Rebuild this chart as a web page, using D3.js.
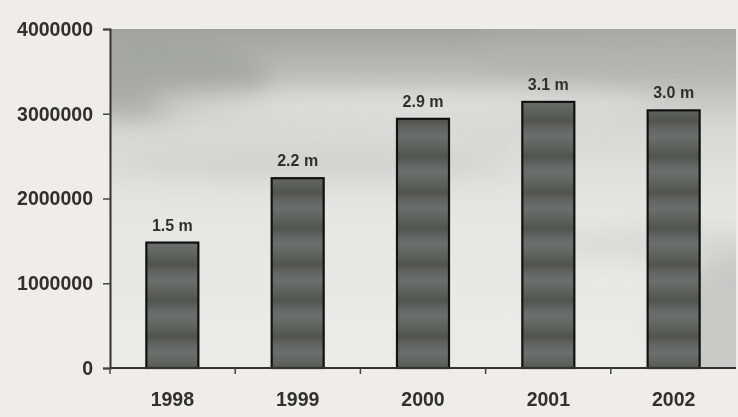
<!DOCTYPE html>
<html>
<head>
<meta charset="utf-8">
<script src="https://cdn.jsdelivr.net/npm/d3@7"></script>
<style>
  html, body { margin: 0; padding: 0; background: #eeedeb; }
  svg { display: block; }
  text { font-family: "Liberation Sans", Arial, sans-serif; font-weight: bold; fill: #303030; }
</style>
</head>
<body>
<svg id="chart" width="738" height="417"></svg>
<script>
// Annual totals, 1998–2002
const years = ["1998", "1999", "2000", "2001", "2002"];
const totals = [1480000, 2240000, 2940000, 3140000, 3040000];
const yTicks = [0, 1000000, 2000000, 3000000, 4000000];

const W = 738, H = 417;
const margin = { top: 29, right: 2, bottom: 49, left: 110 };
const innerW = W - margin.left - margin.right;
const innerH = H - margin.top - margin.bottom;

const svg = d3.select("#chart");
const defs = svg.append("defs");

// plot-area wash: grey at the top, fading to pale grey
const bg = defs.append("linearGradient").attr("id", "bgGrad")
  .attr("x1", 0).attr("y1", 0).attr("x2", 0).attr("y2", 1);
[[0, "#a2a3a1"], [0.1, "#b6b7b5"], [0.3, "#d8d8d6"], [0.55, "#e6e6e4"], [1, "#ebebe9"]]
  .forEach(([o, c]) => bg.append("stop").attr("offset", o).attr("stop-color", c));

const soft = defs.append("filter").attr("id", "soft")
  .attr("x", "-30%").attr("y", "-30%").attr("width", "160%").attr("height", "160%");
soft.append("feGaussianBlur").attr("stdDeviation", 12);

// banded bar fill
const barGrad = defs.append("linearGradient").attr("id", "barGrad")
  .attr("gradientUnits", "userSpaceOnUse")
  .attr("x1", 0).attr("y1", 0).attr("x2", 0).attr("y2", 36)
  .attr("spreadMethod", "repeat");
[[0, "#6a6f6d"], [0.35, "#5b5e5b"], [0.55, "#525350"], [0.8, "#636866"], [1, "#6a6f6d"]]
  .forEach(([o, c]) => barGrad.append("stop").attr("offset", o).attr("stop-color", c));

const g = svg.append("g").attr("transform", `translate(${margin.left},${margin.top})`);

const x = d3.scaleBand().domain(years).range([0, innerW]).paddingInner(0.585).paddingOuter(0.29);
const y = d3.scaleLinear().domain([0, 4000000]).range([innerH, 0]);

// background
const bgG = g.append("g");
bgG.append("rect").attr("width", innerW).attr("height", innerH).attr("fill", "url(#bgGrad)");
const clip = defs.append("clipPath").attr("id", "plotClip");
clip.append("rect").attr("width", innerW).attr("height", innerH);
const waves = bgG.append("g").attr("clip-path", "url(#plotClip)").attr("filter", "url(#soft)");
waves.append("ellipse").attr("cx", 40).attr("cy", 50).attr("rx", 120).attr("ry", 40).attr("fill", "#9a9b99").attr("opacity", 0.6);
waves.append("ellipse").attr("cx", 300).attr("cy", 78).attr("rx", 260).attr("ry", 16).attr("fill", "#e4e4e2").attr("opacity", 0.8);
waves.append("ellipse").attr("cx", 200).attr("cy", 135).attr("rx", 200).attr("ry", 12).attr("fill", "#c6c7c5").attr("opacity", 0.6);
waves.append("ellipse").attr("cx", 560).attr("cy", 25).attr("rx", 200).attr("ry", 28).attr("fill", "#b0b0ae").attr("opacity", 0.6);
waves.append("ellipse").attr("cx", 650).attr("cy", 300).attr("rx", 100).attr("ry", 80).attr("fill", "#bababa").attr("opacity", 0.7);
waves.append("ellipse").attr("cx", 570).attr("cy", 215).attr("rx", 140).attr("ry", 14).attr("fill", "#cbcbc9").attr("opacity", 0.6);

// bars
g.selectAll("rect.bar").data(years).join("rect")
  .attr("class", "bar")
  .attr("x", d => x(d))
  .attr("y", (d, i) => y(totals[i]))
  .attr("width", x.bandwidth())
  .attr("height", (d, i) => innerH - y(totals[i]))
  .attr("fill", "url(#barGrad)")
  .attr("stroke", "#121212")
  .attr("stroke-width", 2.2);

// value labels
const fmt = v => (v / 1e6).toFixed(1) + " m";
g.selectAll("text.val").data(years).join("text")
  .attr("class", "val")
  .attr("x", d => x(d) + x.bandwidth() / 2)
  .attr("y", (d, i) => y(totals[i]) - 12)
  .attr("text-anchor", "middle")
  .attr("font-size", 16)
  .text((d, i) => fmt(totals[i]));

// y axis
const yAxis = g.append("g")
  .call(d3.axisLeft(y).tickValues(yTicks).tickFormat(d3.format("d")).tickSize(7).tickPadding(10));
yAxis.select(".domain").attr("stroke", "#333").attr("stroke-width", 2);
yAxis.selectAll(".tick line").attr("stroke", "#444").attr("stroke-width", 1.5);
yAxis.selectAll("text").attr("font-size", 19.5).attr("fill", "#303030")
  .attr("font-family", "'Liberation Sans', Arial, sans-serif").attr("font-weight", "bold");

// x axis with ticks between categories
const xAxisG = g.append("g").attr("transform", `translate(0,${innerH})`);
xAxisG.append("line").attr("x1", 0).attr("x2", innerW).attr("stroke", "#333").attr("stroke-width", 2);
const bounds = d3.range(years.length).map(i => i * innerW / years.length);
xAxisG.selectAll("line.tk").data(bounds).join("line")
  .attr("class", "tk")
  .attr("x1", d => d).attr("x2", d => d)
  .attr("y1", 0).attr("y2", 6)
  .attr("stroke", "#444").attr("stroke-width", 1.5);
xAxisG.selectAll("text").data(years).join("text")
  .attr("x", d => x(d) + x.bandwidth() / 2)
  .attr("y", 38)
  .attr("text-anchor", "middle")
  .attr("font-size", 19.5)
  .text(d => d);
</script>
</body>
</html>
